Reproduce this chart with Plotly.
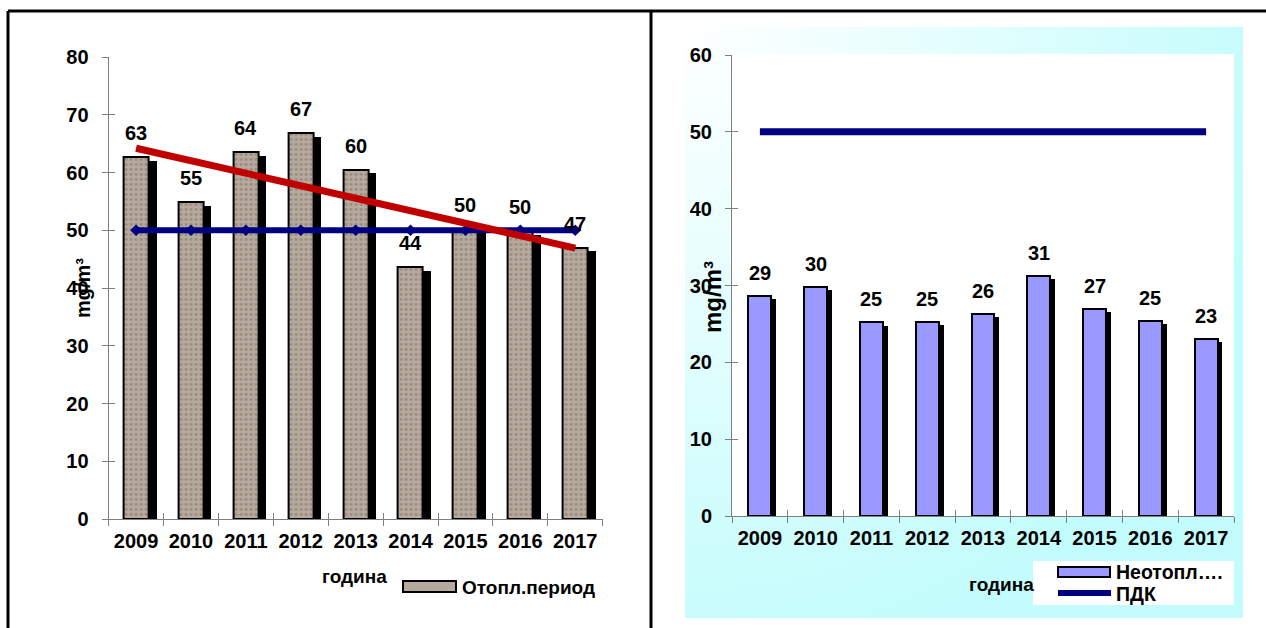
import base64
import plotly.graph_objects as go

# ---------------- data ----------------
years = ["2009", "2010", "2011", "2012", "2013", "2014", "2015", "2016", "2017"]
heating = [62.6, 54.9, 63.5, 66.8, 60.5, 43.6, 50.2, 49.8, 47.0]
heating_labels = ["63", "55", "64", "67", "60", "44", "50", "50", "47"]
trend_years = ["2009", "2017"]
trend_values = [64.2, 46.9]
pdk = [50, 50, 50, 50, 50, 50, 50, 50, 50]
nonheating = [28.6, 29.8, 25.2, 25.3, 26.3, 31.3, 27.0, 25.4, 23.1]
nonheating_labels = ["29", "30", "25", "25", "26", "31", "27", "25", "23"]
yticks_left = [0, 10, 20, 30, 40, 50, 60, 70, 80]
yticks_right = [0, 10, 20, 30, 40, 50, 60]
series_names = ["Отопл.период", "Неотопл….", "ПДК"]

# ---------------- geometry helpers ----------------
W, H = 1266, 628
def fx(p):
    return p / W
def fy(p):
    return 1 - p / H

FONT = "Liberation Sans, Arial, sans-serif"
AX = "#7f7f7f"
NAVY = "#000080"
BROWN = "#b5aa9d"
LILAC = "#9999ff"

fig = go.Figure()

# ---------- left chart ----------
fw_l, sh_l = 0.455, 0.138
fig.add_trace(go.Bar(x=years, y=[v - 0.62 for v in heating], xaxis="x", yaxis="y",
                     width=fw_l, offset=-fw_l / 2 + sh_l,
                     marker=dict(color="black", line=dict(width=0)),
                     showlegend=False, hoverinfo="skip"))
fig.add_trace(go.Bar(x=years, y=heating, xaxis="x", yaxis="y", name=series_names[0],
                     width=fw_l, offset=-fw_l / 2,
                     marker=dict(color=BROWN, line=dict(color="black", width=2),
                                 pattern=dict(shape=".", bgcolor=BROWN, fgcolor="#76695c",
                                              size=5, solidity=0.25)),
                     showlegend=False))
fig.add_trace(go.Scatter(x=years, y=pdk, xaxis="x", yaxis="y", mode="lines+markers",
                         line=dict(color=NAVY, width=6),
                         marker=dict(symbol="diamond", size=9, color=NAVY),
                         showlegend=False, hoverinfo="skip"))
fig.add_trace(go.Scatter(x=trend_years, y=trend_values, xaxis="x", yaxis="y", mode="lines",
                         line=dict(color="#c00000", width=7),
                         showlegend=False, hoverinfo="skip"))
# invisible traces that carry the cross-tick overlay axes
fig.add_trace(go.Scatter(x=years, y=[None] * len(years), xaxis="x", yaxis="y3",
                         mode="lines", showlegend=False, hoverinfo="skip"))
fig.add_trace(go.Scatter(x=years, y=[None] * len(years), xaxis="x3", yaxis="y",
                         mode="lines", showlegend=False, hoverinfo="skip"))

# ---------- right chart ----------
fw_r, sh_r = 0.41, 0.088
fig.add_trace(go.Bar(x=years, y=[v - 0.42 for v in nonheating], xaxis="x2", yaxis="y2",
                     width=fw_r, offset=-fw_r / 2 + sh_r,
                     marker=dict(color="black", line=dict(width=0)),
                     showlegend=False, hoverinfo="skip"))
fig.add_trace(go.Bar(x=years, y=nonheating, xaxis="x2", yaxis="y2", name=series_names[1],
                     width=fw_r, offset=-fw_r / 2,
                     marker=dict(color=LILAC, line=dict(color="black", width=2)),
                     showlegend=False))
fig.add_trace(go.Scatter(x=years, y=pdk, xaxis="x2", yaxis="y2", mode="lines",
                         name=series_names[2], line=dict(color=NAVY, width=7),
                         showlegend=False))
fig.add_trace(go.Scatter(x=years, y=[None] * len(years), xaxis="x2", yaxis="y4",
                         mode="lines", showlegend=False, hoverinfo="skip"))
fig.add_trace(go.Scatter(x=years, y=[None] * len(years), xaxis="x4", yaxis="y2",
                         mode="lines", showlegend=False, hoverinfo="skip"))

tickfont = dict(family=FONT, size=20, color="black", weight="bold")

def xax(dom, anchor, overlay=None):
    d = dict(domain=dom, anchor=anchor, type="category", categoryorder="array",
             categoryarray=years, tickson="boundaries", range=[-0.5, 8.5],
             showgrid=False, zeroline=False, fixedrange=True)
    if overlay:
        d.update(overlaying=overlay, ticks="inside", ticklen=6, tickcolor=AX,
                 showticklabels=False, showline=False)
    else:
        d.update(ticks="outside", ticklen=6, tickcolor=AX, showline=True, linecolor=AX,
                 linewidth=1, tickfont=tickfont, ticklabelstandoff=4)
    return d

def yax(dom, anchor, rng, tv, overlay=None):
    d = dict(domain=dom, anchor=anchor, range=rng, tickvals=tv, showgrid=False,
             zeroline=False, fixedrange=True)
    if overlay:
        d.update(overlaying=overlay, ticks="inside", ticklen=6, tickcolor=AX,
                 showticklabels=False, showline=False, side="left")
    else:
        d.update(ticks="outside", ticklen=6, tickcolor=AX, showline=True, linecolor=AX,
                 linewidth=1, tickfont=tickfont, ticklabelstandoff=9)
    return d

xl = [fx(108.6), fx(602.7)]
yl = [fy(519), fy(57)]
xr = [fx(732), fx(1234)]
yr = [fy(516), fy(55)]

def bold(size):
    return dict(family=FONT, size=size, color="black", weight="bold")

annotations = []
for i, (v, t) in enumerate(zip(heating, heating_labels)):
    annotations.append(dict(x=i, y=v, xref="x", yref="y", text=t, showarrow=False,
                            yshift=24, yanchor="middle", font=bold(20)))
for i, (v, t) in enumerate(zip(nonheating, nonheating_labels)):
    annotations.append(dict(x=i, y=v, xref="x2", yref="y2", text=t, showarrow=False,
                            yshift=23, yanchor="middle", font=bold(20)))

def paper_text(x, y, text, size, xanchor="center", angle=0):
    return dict(x=fx(x), y=fy(y), xref="paper", yref="paper", text=text,
                textangle=angle, showarrow=False, xanchor=xanchor, yanchor="middle",
                font=bold(size))

annotations += [
    paper_text(83, 288, "mg/m³", 20, angle=-90),
    paper_text(713, 297, "mg/m³", 24, angle=-90),
    paper_text(354, 576, "година", 19),
    paper_text(1001, 584, "година", 19),
    # legend texts
    paper_text(460, 587, series_names[0], 19, xanchor="left"),
    paper_text(1114, 572, series_names[1], 19.5, xanchor="left"),
    paper_text(1114, 594, series_names[2], 19.5, xanchor="left"),
]

svg = ('<svg xmlns="http://www.w3.org/2000/svg" width="558" height="591">'
       '<defs><radialGradient id="g" cx="0" cy="0" r="1.1">'
       '<stop offset="0" stop-color="#ffffff"/><stop offset="1" stop-color="#c2fcfc"/>'
       '</radialGradient></defs><rect width="558" height="591" fill="url(#g)"/></svg>')
src = "data:image/svg+xml;base64," + base64.b64encode(svg.encode()).decode()

def prect(x0, x1, y0, y1, fill, lw=0, layer="below"):
    return dict(type="rect", xref="paper", yref="paper", x0=fx(x0), x1=fx(x1),
                y0=fy(y1), y1=fy(y0), fillcolor=fill, layer=layer,
                line=dict(color="black", width=lw))

def pline(x0, y0, x1, y1, color, w):
    return dict(type="line", xref="paper", yref="paper", x0=fx(x0), x1=fx(x1),
                y0=fy(y0), y1=fy(y1), line=dict(color=color, width=w))

shapes = [
    prect(732, 1234, 54, 516, "white"),
    prect(1033, 1234, 561, 605, "white"),
    pline(8, 11, W, 11, "black", 3),
    pline(8, 11, 8, H, "black", 3),
    pline(651, 11, 651, H, "black", 3),
    # legend swatches
    prect(403, 456, 581, 592, BROWN, lw=2, layer="above"),
    prect(1058, 1110, 567, 577, LILAC, lw=2, layer="above"),
    pline(1058, 593, 1111, 593, NAVY, 6),
]

fig.update_layout(
    width=W, height=H, autosize=False,
    margin=dict(l=0, r=0, t=0, b=0, autoexpand=False),
    paper_bgcolor="white", plot_bgcolor="white",
    barmode="overlay", bargap=0, showlegend=False,
    xaxis=xax(xl, "y"), yaxis=yax(yl, "x", [0, 80], yticks_left),
    xaxis3=xax(xl, "y", overlay="x"), yaxis3=yax(yl, "x", [0, 80], yticks_left, overlay="y"),
    xaxis2=xax(xr, "y2"), yaxis2=yax(yr, "x2", [0, 60], yticks_right),
    xaxis4=xax(xr, "y2", overlay="x2"),
    yaxis4=yax(yr, "x2", [0, 60], yticks_right, overlay="y2"),
    annotations=annotations,
    shapes=shapes,
    images=[dict(source=src, xref="paper", yref="paper", x=fx(685), y=fy(27),
                 sizex=(1243 - 685) / W, sizey=(618 - 27) / H, sizing="stretch",
                 xanchor="left", yanchor="top", layer="below")],
    hovermode=False,
)

post = ("document.body.style.margin='0';"
        "document.documentElement.style.overflow='hidden';"
        "document.body.style.overflow='hidden';"
        "var d=document.getElementById('{plot_id}');"
        "d.style.position='fixed';d.style.top='0px';d.style.left='0px';")
fig.write_html("out.html", post_script=post, config={"displayModeBar": False})
